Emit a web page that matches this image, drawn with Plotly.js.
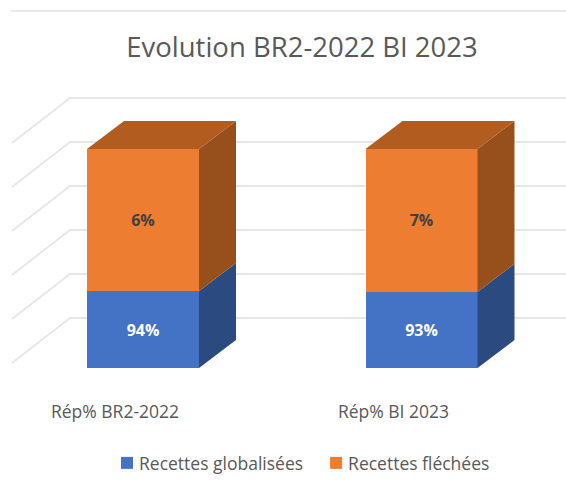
<!DOCTYPE html>
<html><head><meta charset="utf-8">
<script src="https://cdn.plot.ly/plotly-3.0.1.min.js"></script>
<style>html,body{margin:0;padding:0;background:#fff}#c{width:566px;height:491px}</style>
</head><body><div id="c"></div>
<script>
const categories = ['Rép% BR2-2022', 'Rép% BI 2023'];
const seriesNames = ['Recettes globalisées', 'Recettes fléchées'];
// drawn column heights as read on the gridline scale
const globaliseesHeight = [1.75, 1.73];
const flecheesHeight = [3.23, 3.25];
const globaliseesLabels = ['94%', '93%'];
const flecheesLabels = ['6%', '7%'];
const gridValues = [0, 1, 2, 3, 4, 5];

const W = 566, H = 491, base = 368, pxPerUnit = 44, pxPerCat = 278.5, firstCat = 115;
const barW = 112 / pxPerCat, barOff = -28 / pxPerCat;
const depthX = 37 / pxPerCat, depthY = 28 / pxPerUnit;
const xs = categories.map((_, i) => i);
const font = '"Open Sans", sans-serif';

function poly(xa, ya, color) {
  return {type:'scatter', mode:'lines', x:xa, y:ya, fill:'toself', fillcolor:color,
    line:{width:0, color:color}, showlegend:false, hoverinfo:'skip'};
}
const faces = [];
xs.forEach(i => {
  const l = i + barOff, r = l + barW;
  const a = globaliseesHeight[i], b = a + flecheesHeight[i];
  faces.push(poly([r, r+depthX, r+depthX, r, r], [0, depthY, a+depthY, a, 0], '#2A4A80'));
  faces.push(poly([r, r+depthX, r+depthX, r, r], [a, a+depthY, b+depthY, b, a], '#97501C'));
  faces.push(poly([l, l+depthX, r+depthX, r, l], [b, b+depthY, b+depthY, b, b], '#B35C20'));
});

const wallDx = 58 / pxPerCat, leftEdge = -firstCat / pxPerCat + 12 / pxPerCat;
const wallDy = 50 / pxPerUnit, frontDy = 5 / pxPerUnit;
const wallX = leftEdge + wallDx, xMax = (W - firstCat) / pxPerCat;
const gridStyle = {color:'#E6E6E6', width:1.8};
const shapes = gridValues.map(v => ({type:'path', layer:'below', xref:'x', yref:'y',
  path:`M${leftEdge},${v+frontDy} L${wallX},${v+wallDy} L${xMax},${v+wallDy}`, line:gridStyle}));
shapes.push({type:'line', layer:'below', xref:'paper', yref:'paper', x0:11/W, x1:1,
  y0:1 - 11/base, y1:1 - 11/base, line:{color:'#E0E0E0', width:1.5}});

const traces = [
  {type:'bar', name:seriesNames[0], x:xs, y:globaliseesHeight, width:barW, offset:barOff,
   marker:{color:'#4472C4'}, text:globaliseesLabels, textposition:'inside', insidetextanchor:'middle',
   textangle:0, textfont:{family:font, size:16, color:'#FFFFFF', weight:700}, hoverinfo:'skip'},
  {type:'bar', name:seriesNames[1], x:xs, y:flecheesHeight, width:barW, offset:barOff,
   marker:{color:'#ED7D31'}, text:flecheesLabels, textposition:'inside', insidetextanchor:'middle',
   textangle:0, textfont:{family:font, size:16, color:'#404040', weight:700}, hoverinfo:'skip'}
].concat(faces);

const layout = {
  width:W, height:H, paper_bgcolor:'#fff', plot_bgcolor:'rgba(0,0,0,0)',
  margin:{l:0, r:0, t:0, b:H-base, pad:0}, barmode:'stack', bargap:0,
  title:{text:'Evolution BR2-2022 BI 2023', x:302/W, xanchor:'center', y:1-47/H, yanchor:'middle', yref:'container', xref:'paper',
    font:{family:font, size:27.5, color:'#595959'}},
  xaxis:{type:'linear', range:[-firstCat/pxPerCat, xMax], tickmode:'array', tickvals:xs, ticktext:categories,
    showgrid:false, zeroline:false, showline:false, ticks:'', ticklabelstandoff:31,
    tickfont:{family:font, size:17.5, color:'#595959'}, fixedrange:true},
  yaxis:{range:[0, base/pxPerUnit], visible:false, fixedrange:true},
  legend:{orientation:'h', x:297/W, xanchor:'center', y:(base-463)/base, yref:'paper', yanchor:'middle',
    font:{family:font, size:17.5, color:'#595959'}, traceorder:'normal', itemwidth:30},
  shapes:shapes, showlegend:true
};
Plotly.newPlot('c', traces, layout, {staticPlot:true, displayModeBar:false}).then(() => {
  document.querySelectorAll('.legend .legendsymbols').forEach(g => g.setAttribute('transform', 'translate(8,0)'));
});
</script></body></html>
